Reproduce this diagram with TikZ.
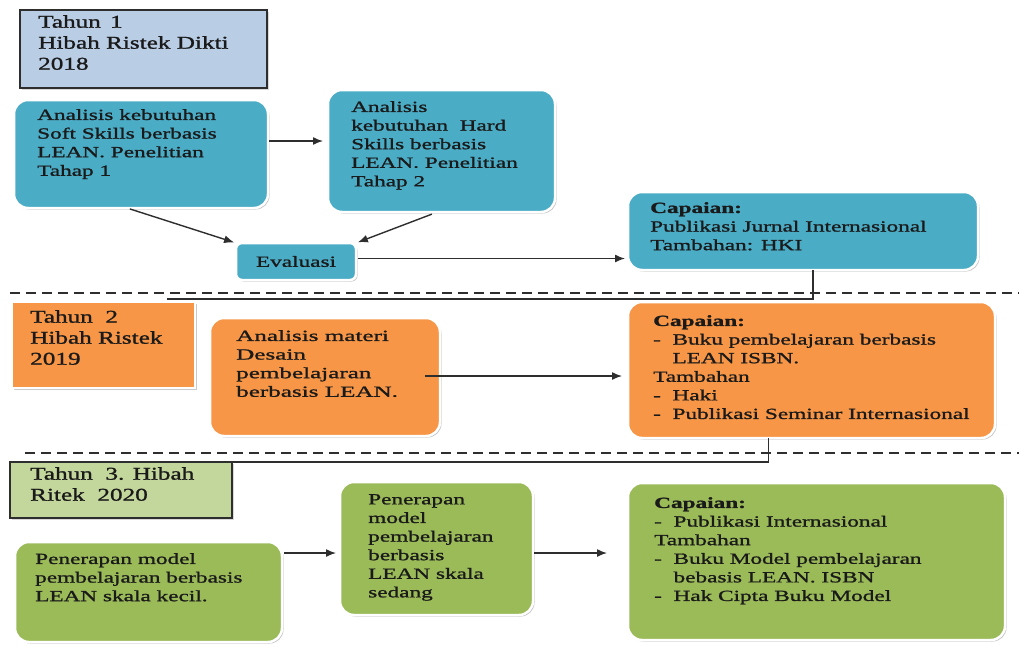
\documentclass[tikz,border=0pt]{standalone}
\usepackage{fontspec}
\setmainfont{Liberation Serif}[FakeStretch=1.5, FakeBold=1.2]
\newfontfamily\yrfont{Liberation Serif}[FakeStretch=1.4, FakeBold=1.2]
\newfontfamily\wdfont{Liberation Serif}[FakeStretch=1.62, FakeBold=1.2]
\usetikzlibrary{shadows,arrows.meta,calc}
\definecolor{yrblue}{HTML}{B9CDE5}
\definecolor{tealc}{HTML}{4BACC6}
\definecolor{orng}{HTML}{F79646}
\definecolor{grn}{HTML}{9BBB59}
\definecolor{ltgrn}{HTML}{C3D69B}
\definecolor{ink}{HTML}{1A1A1A}
\definecolor{lnc}{HTML}{2E2E2E}
\tikzset{
  basebox/.style={rectangle, anchor=north west, inner sep=0pt, outer sep=0pt},
  roundbox/.style={basebox, rounded corners=14pt, draw=white, line width=2.5pt,
     drop shadow={shadow xshift=1.5pt, shadow yshift=-1.5pt, fill=black!40, opacity=0.6}},
  yearbox/.style={basebox, draw=lnc, line width=1.6pt,
     drop shadow={shadow xshift=1.5pt, shadow yshift=-1.5pt, fill=black!25, opacity=0.6}},
  yearplain/.style={basebox, draw=white, line width=2.5pt,
     drop shadow={shadow xshift=1.5pt, shadow yshift=-1.5pt, fill=black!35, opacity=0.6}},
  txt/.style={anchor=north west, align=left, inner sep=0pt, text=ink,
     font=\fontsize{15.5}{18.6}\selectfont},
  wdtxt/.style={txt, font=\wdfont\fontsize{15.5}{18.6}\selectfont},
  ytxt/.style={anchor=north west, align=left, inner sep=0pt, text=ink,
     font=\yrfont\fontsize{18}{21}\selectfont},
  arr/.style={draw=lnc, line width=1.4pt, -{Latex[length=10pt,width=8pt]}},
  ln/.style={draw=lnc, line width=1.4pt},
  dsh/.style={draw=lnc, line width=2pt, dash pattern=on 10pt off 6pt},
}
\begin{document}
\begin{tikzpicture}[x=1pt,y=-1pt]
\useasboundingbox (0,0) rectangle (1019,646);
% dashed separators
\draw[dsh] (10,293) -- (1019,293);
\draw[dsh] (25,453) -- (1019,453);

% ---- Year 1
\node[yearbox, fill=yrblue, minimum width=247pt, minimum height=78pt] (y1) at (20,10) {};
\node[ytxt] (y1t) at (38,15) {Tahun\,\ 1\\Hibah Ristek\ Dikti\\2018};

\node[roundbox, fill=tealc, minimum width=254pt, minimum height=108pt] (a1) at (14,100) {};
\node[txt] (a1t) at (37,109) {Analisis kebutuhan\\Soft Skills berbasis\\LEAN. Penelitian\\Tahap 1};

\node[roundbox, fill=tealc, minimum width=227pt, minimum height=122pt] (a2) at (328,90) {};
\node[txt] (a2t) at (351,101) {Analisis\\kebutuhan\ \ Hard\\Skills berbasis\\LEAN. Penelitian\\Tahap 2};

\node[roundbox, rounded corners=6pt, fill=tealc, minimum width=120pt, minimum height=37pt,
      font=\fontsize{15.5}{18.6}\selectfont, text=ink] (ev) at (236,243) {Evaluasi};

\node[roundbox, fill=tealc, minimum width=350pt, minimum height=78pt] (c1) at (628,192) {};
\node[txt] (c1t) at (650,202) {\textbf{Capaian:}\\Publikasi Jurnal Internasional\\Tambahan: HKI};

% ---- Year 2
\node[yearplain, fill=orng, minimum width=183pt, minimum height=86pt] (y2) at (12,302) {};
\node[ytxt] (y2t) at (30,310) {Tahun\ \ 2\\Hibah Ristek\\2019};

\node[roundbox, fill=orng, minimum width=230pt, minimum height=118pt] (b1) at (210,318) {};
\node[wdtxt] (b1t) at (236,330) {Analisis materi\\Desain\\pembelajaran\\berbasis LEAN.};

\node[roundbox, fill=orng, minimum width=367pt, minimum height=136pt] (c2) at (628,302) {};
\node[txt] (c2t) at (653,315) {\textbf{Capaian:}\\-\ \ Buku pembelajaran berbasis\\\phantom{-\ \ }LEAN ISBN.\\Tambahan\\-\ \ Haki\\-\ \ Publikasi Seminar Internasional};

% ---- Year 3
\node[yearbox, fill=ltgrn, minimum width=222pt, minimum height=56pt] (y3) at (10,462) {};
\node[ytxt] (y3t) at (30,467) {Tahun\ \ 3. Hibah\\Ritek\ \ 2020};

\node[roundbox, fill=grn, minimum width=267pt, minimum height=100pt] (g1) at (15,542) {};
\node[txt] (g1t) at (35,553) {Penerapan model\\pembelajaran berbasis\\LEAN skala kecil.};

\node[roundbox, fill=grn, minimum width=193pt, minimum height=133pt] (g2) at (340,482) {};
\node[txt] (g2t) at (368,494) {Penerapan\\model\\pembelajaran\\berbasis\\LEAN skala\\sedang};

\node[roundbox, fill=grn, minimum width=377pt, minimum height=157pt] (c3) at (628,483) {};
\node[txt] (c3t) at (654,497) {\textbf{Capaian:}\\-\ \ Publikasi Internasional\\Tambahan\\-\ \ Buku Model pembelajaran\\\phantom{-\ \ }bebasis LEAN. ISBN\\-\ \ Hak Cipta Buku Model};

% ---- connectors
\coordinate (j1) at (167,299);
\draw[arr, shorten <=1pt, shorten >=5pt] ([yshift=13pt]a1.east) -- ([yshift=13pt]a1.east -| a2.west);
\draw[arr, shorten <=3pt, shorten >=2pt] ([xshift=-14pt]a1.south) -- (ev.north west);
\draw[arr, shorten <=6pt, shorten >=2pt] ([xshift=-4pt]a2.south) -- (ev.north east);
\draw[arr, shorten <=2pt, shorten >=3pt] ([yshift=3pt]ev.east) -- ([yshift=3pt]ev.east -| c1.west);
\draw[ln] ([xshift=10pt]c1.south) |- (j1);
\draw[arr, shorten <=-15pt, shorten >=6pt] ([yshift=1pt]b1.east) -- ([yshift=1pt]b1.east -| c2.west);
\draw[ln] ([xshift=-43pt]c2.south) |- (y3.north west);
\draw[arr, shorten <=2pt, shorten >=4pt] ([yshift=39pt]g1.east) -- ([yshift=39pt]g1.east -| g2.west);
\draw[arr, shorten <=1pt, shorten >=21pt] ([yshift=-4.5pt]g2.east) -- ([yshift=-4.5pt]g2.east -| c3.west);
\end{tikzpicture}
\end{document}
